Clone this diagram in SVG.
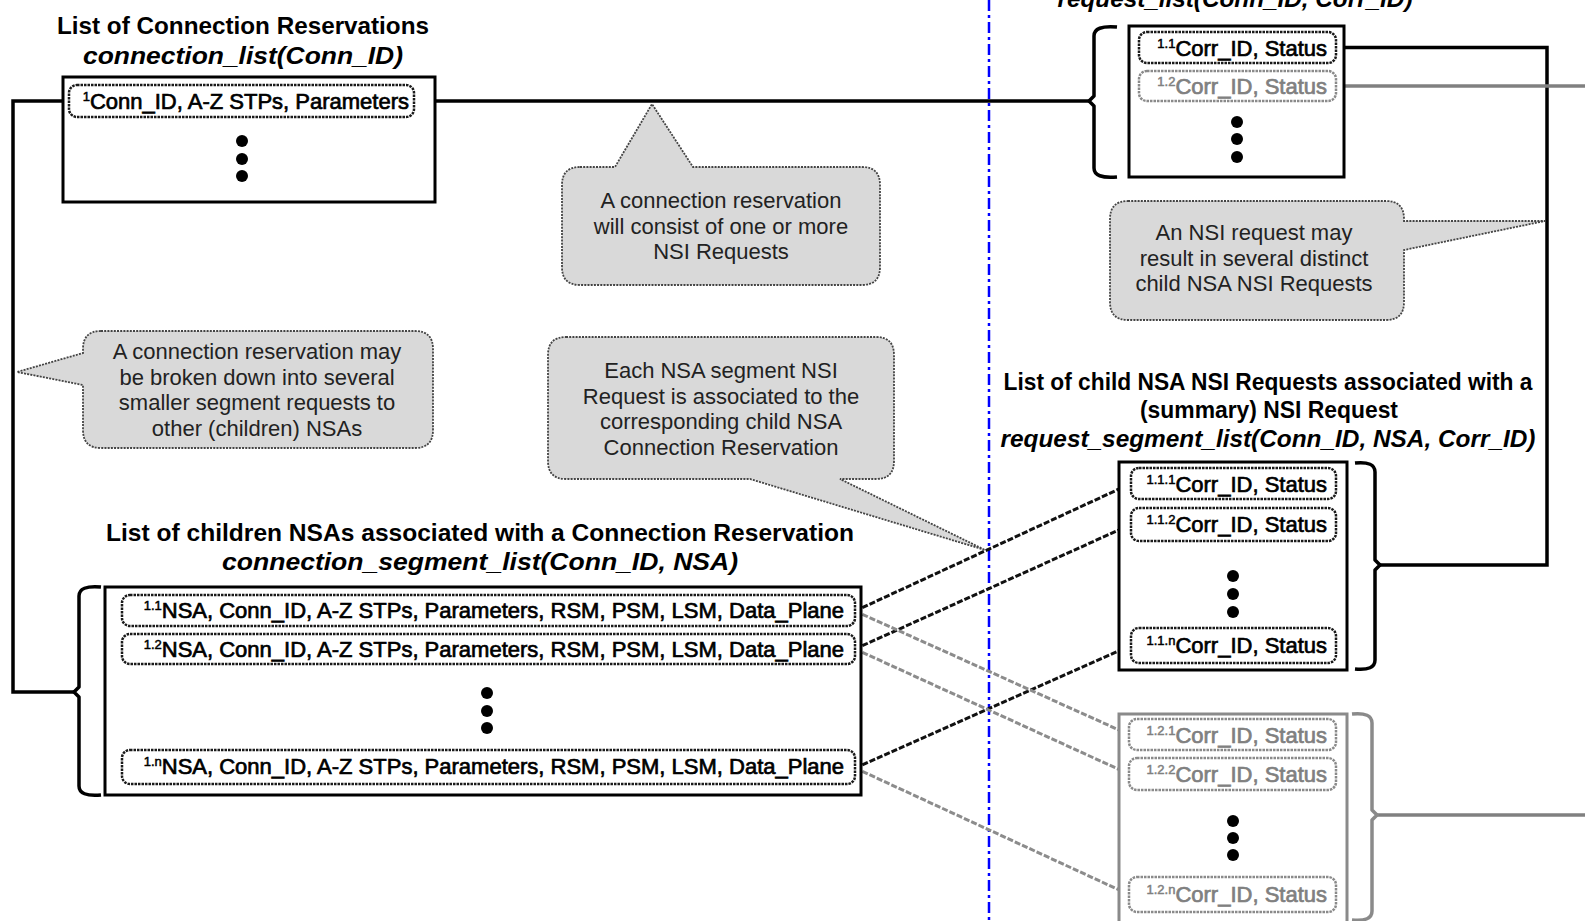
<svg xmlns="http://www.w3.org/2000/svg" width="1585" height="921" viewBox="0 0 1585 921">
  <style>
    text { font-family: "Liberation Sans", Arial, sans-serif; }
    .title { font-size: 24px; font-weight: bold; text-anchor: middle; fill: #000; }
    .ital { font-style: italic; }
    .box { fill: #fff; stroke: #000; stroke-width: 3; }
    .boxg { fill: #fff; stroke: #8a8a8a; stroke-width: 3; }
    .item { fill: #fff; stroke: #1a1a1a; stroke-width: 2.5; stroke-dasharray: 2.5 1; }
    .itemg { fill: #fff; stroke: #8a8a8a; stroke-width: 2.5; stroke-dasharray: 2.5 1; }
    .itxt { font-size: 22px; fill: #000; stroke: #000; stroke-width: 0.7; text-anchor: end; }
    .itxtg { font-size: 22px; fill: #808080; stroke: #808080; stroke-width: 0.7; text-anchor: end; }
    .sup { font-size: 13px; stroke-width: 0.5; }
    .dot { fill: #000; }
    .brk { fill: none; stroke: #000; stroke-width: 3.5; stroke-linejoin: round; }
    .brkg { fill: none; stroke: #8a8a8a; stroke-width: 3.5; stroke-linejoin: round; }
    .wire { fill: none; stroke: #000; stroke-width: 3.5; }
    .wireg { fill: none; stroke: #808080; stroke-width: 3.5; }
    .dash { fill: none; stroke: #111; stroke-width: 3; stroke-dasharray: 6 2; }
    .dashg { fill: none; stroke: #8c8c8c; stroke-width: 3; stroke-dasharray: 6 2; }
    .sep { fill: none; stroke: #0000ff; stroke-width: 2.5; stroke-dasharray: 11 4 3 4; }
    .call { fill: #d9d9d9; stroke: #444; stroke-width: 1.8; stroke-dasharray: 2 1.2; }
    .ctxt { font-size: 22px; fill: #222; text-anchor: middle; }
  </style>

  <!-- domain separator -->
  <path class="sep" d="M989,0 V921"/>

  <!-- connectors -->
  <g id="connectors">
    <path class="wire" d="M69,101 H13 V692 H74"/>
    <path class="wire" d="M414,101 H1090"/>
    <path class="wire" d="M1336,47.5 H1547 V565 H1380"/>
    <path class="wireg" d="M1336,86 H1585"/>
    <path class="wireg" d="M1377,815 H1585"/>
    <path class="dash" d="M855,611 L1131,483.5"/>
    <path class="dash" d="M855,649 L1131,524.5"/>
    <path class="dash" d="M855,768 L1131,645.5"/>
    <path class="dashg" d="M855,611 L1129,734.5"/>
    <path class="dashg" d="M855,649 L1129,774"/>
    <path class="dashg" d="M855,768 L1129,894.5"/>
  </g>

  <!-- connection_list -->
  <g id="connection-list">
    <text class="title" x="243" y="34" textLength="372" lengthAdjust="spacingAndGlyphs">List of Connection  Reservations</text>
    <text class="title ital" x="243" y="64" textLength="320" lengthAdjust="spacingAndGlyphs">connection_list(Conn_ID)</text>
    <rect class="box" x="63" y="77" width="372" height="125"/>
    <rect class="item" x="69" y="85" width="345" height="32" rx="8"/>
    <text class="itxt" x="409" y="109"><tspan class="sup" dy="-8">1</tspan><tspan dy="8">Conn_ID, A-Z STPs, Parameters</tspan></text>
    <circle class="dot" cx="242" cy="141" r="6"/>
    <circle class="dot" cx="242" cy="159" r="6"/>
    <circle class="dot" cx="242" cy="176" r="6"/>
  </g>

  <!-- request_list -->
  <g id="request-list">
    <text class="title ital" x="1235" y="7" textLength="355" lengthAdjust="spacingAndGlyphs">request_list(Conn_ID,  Corr_ID)</text>
    <path class="brk" d="M1117,27 Q1094,25 1094,36 V96 L1089,101 L1094,106 V168 Q1094,179 1117,177"/>
    <rect class="box" x="1129" y="26" width="215" height="151"/>
    <rect class="item" x="1139" y="32" width="197" height="31" rx="8"/>
    <text class="itxt" x="1327" y="55.5"><tspan class="sup" dy="-8">1.1</tspan><tspan dy="8">Corr_ID, Status</tspan></text>
    <rect class="itemg" x="1139" y="71" width="197" height="30" rx="8"/>
    <text class="itxtg" x="1327" y="94"><tspan class="sup" dy="-8">1.2</tspan><tspan dy="8">Corr_ID, Status</tspan></text>
    <circle class="dot" cx="1237" cy="122" r="6"/>
    <circle class="dot" cx="1237" cy="139" r="6"/>
    <circle class="dot" cx="1237" cy="157" r="6"/>
  </g>

  <!-- request_segment_list -->
  <g id="request-segment-list">
    <text class="title" x="1268" y="390" textLength="529" lengthAdjust="spacingAndGlyphs">List of child NSA NSI Requests associated with a</text>
    <text class="title" x="1269" y="418" textLength="258" lengthAdjust="spacingAndGlyphs">(summary) NSI Request</text>
    <text class="title ital" x="1268" y="447" textLength="535" lengthAdjust="spacingAndGlyphs">request_segment_list(Conn_ID, NSA, Corr_ID)</text>
    <rect class="box" x="1119" y="462" width="228" height="208"/>
    <rect class="item" x="1131" y="468" width="205" height="31" rx="8"/>
    <text class="itxt" x="1327" y="491.5"><tspan class="sup" dy="-8">1.1.1</tspan><tspan dy="8">Corr_ID, Status</tspan></text>
    <rect class="item" x="1131" y="508" width="205" height="33" rx="8"/>
    <text class="itxt" x="1327" y="532"><tspan class="sup" dy="-8">1.1.2</tspan><tspan dy="8">Corr_ID, Status</tspan></text>
    <circle class="dot" cx="1233" cy="576" r="6"/>
    <circle class="dot" cx="1233" cy="594" r="6"/>
    <circle class="dot" cx="1233" cy="612" r="6"/>
    <rect class="item" x="1131" y="628" width="205" height="35" rx="8"/>
    <text class="itxt" x="1327" y="653"><tspan class="sup" dy="-8">1.1.n</tspan><tspan dy="8">Corr_ID, Status</tspan></text>
    <path class="brk" d="M1355,463 Q1375,461 1375,472 V560 L1380,565 L1375,570 V660 Q1375,671 1355,669"/>
  </g>

  <!-- request_segment_list, second child -->
  <g id="request-segment-list-2">
    <rect class="boxg" x="1119" y="714" width="228" height="212"/>
    <rect class="itemg" x="1129" y="719" width="207" height="31" rx="8"/>
    <text class="itxtg" x="1327" y="742.5"><tspan class="sup" dy="-8">1.2.1</tspan><tspan dy="8">Corr_ID, Status</tspan></text>
    <rect class="itemg" x="1129" y="758" width="207" height="32" rx="8"/>
    <text class="itxtg" x="1327" y="782"><tspan class="sup" dy="-8">1.2.2</tspan><tspan dy="8">Corr_ID, Status</tspan></text>
    <circle class="dot" cx="1233" cy="821" r="6"/>
    <circle class="dot" cx="1233" cy="838" r="6"/>
    <circle class="dot" cx="1233" cy="855" r="6"/>
    <rect class="itemg" x="1129" y="877" width="207" height="35" rx="8"/>
    <text class="itxtg" x="1327" y="902"><tspan class="sup" dy="-8">1.2.n</tspan><tspan dy="8">Corr_ID, Status</tspan></text>
    <path class="brkg" d="M1352,714 Q1372,712 1372,723 V810 L1377,815 L1372,820 V911 Q1372,922 1352,920"/>
  </g>

  <!-- connection_segment_list -->
  <g id="connection-segment-list">
    <text class="title" x="480" y="541" textLength="748" lengthAdjust="spacingAndGlyphs">List of children NSAs associated with a Connection  Reservation</text>
    <text class="title ital" x="480" y="570" textLength="516" lengthAdjust="spacingAndGlyphs">connection_segment_list(Conn_ID, NSA)</text>
    <path class="brk" d="M101,587 Q79,585 79,596 V687 L74,692 L79,697 V786 Q79,797 101,795"/>
    <rect class="box" x="105" y="587" width="756" height="208"/>
    <rect class="item" x="122" y="595" width="733" height="31" rx="8"/>
    <text class="itxt" x="844" y="618"><tspan class="sup" dy="-8">1.1</tspan><tspan dy="8">NSA, Conn_ID, A-Z STPs, Parameters, RSM, PSM, LSM, Data_Plane</tspan></text>
    <rect class="item" x="122" y="634" width="733" height="30" rx="8"/>
    <text class="itxt" x="844" y="656.5"><tspan class="sup" dy="-8">1.2</tspan><tspan dy="8">NSA, Conn_ID, A-Z STPs, Parameters, RSM, PSM, LSM, Data_Plane</tspan></text>
    <circle class="dot" cx="487" cy="693" r="6"/>
    <circle class="dot" cx="487" cy="711" r="6"/>
    <circle class="dot" cx="487" cy="728" r="6"/>
    <rect class="item" x="122" y="750" width="733" height="34" rx="8"/>
    <text class="itxt" x="844" y="774"><tspan class="sup" dy="-8">1.n</tspan><tspan dy="8">NSA, Conn_ID, A-Z STPs, Parameters, RSM, PSM, LSM, Data_Plane</tspan></text>
  </g>

  <!-- callouts -->
  <g id="note-consist">
    <path class="call" d="M580,167 H615 L652,104 L693,167 H862 Q880,167 880,185 V267 Q880,285 862,285 H580 Q562,285 562,267 V185 Q562,167 580,167 Z"/>
    <text class="ctxt" x="721" y="208">A connection reservation</text>
    <text class="ctxt" x="721" y="233.5">will consist of one or more</text>
    <text class="ctxt" x="721" y="259">NSI Requests</text>
  </g>

  <g id="note-distinct">
    <path class="call" d="M1128,201 H1386 Q1404,201 1404,219 V221 L1545,221 L1404,250 V302 Q1404,320 1386,320 H1128 Q1110,320 1110,302 V219 Q1110,201 1128,201 Z"/>
    <text class="ctxt" x="1254" y="240">An NSI request may</text>
    <text class="ctxt" x="1254" y="265.5">result in several distinct</text>
    <text class="ctxt" x="1254" y="291">child NSA NSI Requests</text>
  </g>

  <g id="note-broken-down">
    <path class="call" d="M101,331 H415 Q433,331 433,349 V430 Q433,448 415,448 H101 Q83,448 83,430 V385 L17,372 L83,353 V349 Q83,331 101,331 Z"/>
    <text class="ctxt" x="257" y="359">A connection reservation may</text>
    <text class="ctxt" x="257" y="384.5">be broken down into several</text>
    <text class="ctxt" x="257" y="410">smaller segment requests to</text>
    <text class="ctxt" x="257" y="435.5">other (children) NSAs</text>
  </g>

  <g id="note-segment">
    <path class="call" d="M566,337 H876 Q894,337 894,355 V461 Q894,479 876,479 H840 L985,550 L750,479 H566 Q548,479 548,461 V355 Q548,337 566,337 Z"/>
    <text class="ctxt" x="721" y="378">Each NSA segment NSI</text>
    <text class="ctxt" x="721" y="403.5">Request is associated to the</text>
    <text class="ctxt" x="721" y="429">corresponding child NSA</text>
    <text class="ctxt" x="721" y="454.5">Connection Reservation</text>
  </g>
</svg>
